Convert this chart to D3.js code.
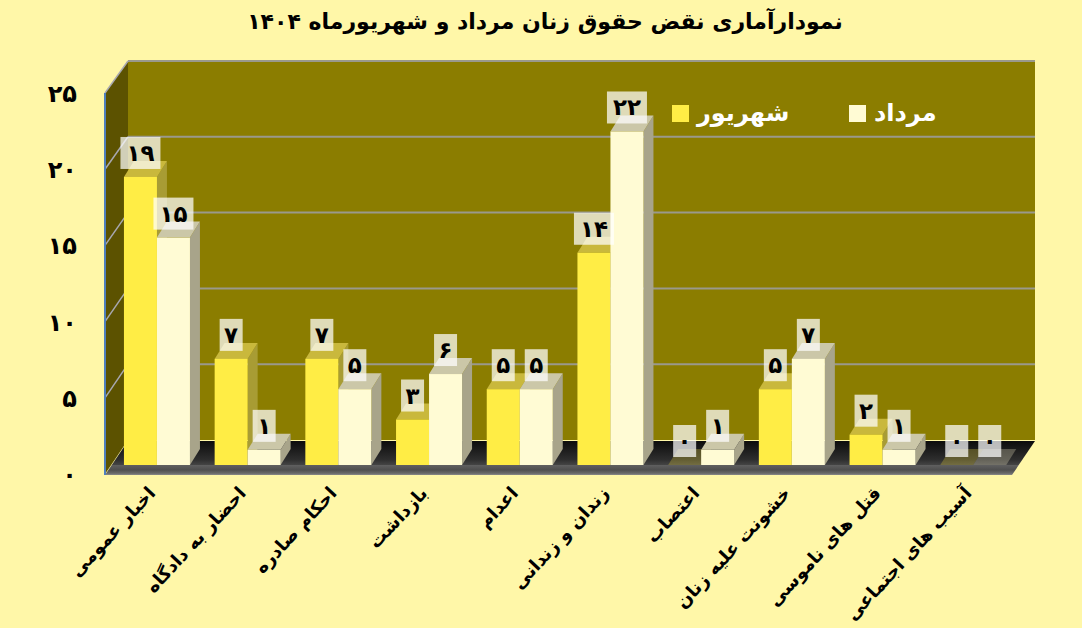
<!DOCTYPE html>
<html>
<head>
<meta charset="utf-8">
<script src="https://cdn.jsdelivr.net/npm/d3@7"></script>
<style>
  html, body { margin: 0; padding: 0; background: #FFF7A8; }
  svg { display: block; }
  text { font-family: "DejaVu Sans", sans-serif; font-weight: bold; }
</style>
</head>
<body>
<svg id="chart" width="1082" height="628"></svg>
<script>
// ---- data ----
const title = "نمودارآماری نقض حقوق زنان مرداد و شهریورماه ۱۴۰۴";
const categories = ["اخبار عمومی", "احضار به دادگاه", "احکام صادره", "بازداشت", "اعدام", "زندان و زندانی", "اعتصاب", "خشونت علیه زنان", "قتل های ناموسی", "آسیب های اجتماعی"];
const seriesNames = ["شهریور", "مرداد"];
const shahrivar = [19, 7, 7, 3, 5, 14, 0, 5, 2, 0];
const mordad = [15, 1, 5, 6, 5, 22, 1, 7, 1, 0];
const yTicks = [0, 5, 10, 15, 20, 25];

// ---- helpers ----
const faDigits = "۰۱۲۳۴۵۶۷۸۹";
const fa = n => String(n).replace(/\d/g, d => faDigits[+d]);

const svg = d3.select("#chart");

// geometry of the 3D frame
const frontL = 105, frontR = 1012;
const DX = 23, DY = -34;          // full depth offset (front -> back)
const bDX = 10, bDY = -16;        // bar depth offset
const barShift = 6.6;             // bars sit slightly behind front plane

const yFront = d3.scaleLinear().domain([0, 25]).range([474, 93]);
const yBack = d3.scaleLinear().domain([0, 25]).range([440, 61]);
const yBar = d3.scaleLinear().domain([0, 25]).range([465, 465 - 25 * 15.16]);

const x0 = d3.scaleBand().domain(categories).range([frontL + barShift, frontR + barShift]).paddingInner(0).paddingOuter(0);
const x1 = d3.scaleBand().domain(seriesNames).range([0, x0.bandwidth()]).paddingInner(0).paddingOuter(0.374);
const xCat = d3.scaleBand().domain(categories).range([frontL, frontR]);

const colors = {
  "شهریور": { front: "#FFED45", top: "#C9B83C", side: "#A89C34" },
  "مرداد": { front: "#FFFBD4", top: "#CBC7A8", side: "#A8A48A" }
};

// ---- title ----
svg.append("text")
  .attr("x", 545).attr("y", 29)
  .attr("text-anchor", "middle")
  .attr("font-size", 22)
  .attr("fill", "#000")
  .text(title);

// ---- walls ----
const backTop = yBack(25), backBot = yBack(0);
svg.append("rect")
  .attr("x", frontL + DX).attr("y", backTop)
  .attr("width", frontR - frontL).attr("height", backBot - backTop)
  .attr("fill", "#8B7D00");

svg.append("polygon")
  .attr("points", [[frontL, yFront(25)], [frontL + DX, backTop], [frontL + DX, backBot], [frontL, yFront(0)]].map(p => p.join(",")).join(" "))
  .attr("fill", "#5C5200");

// gridlines (back wall + left wall)
const gridVals = yTicks.filter(v => v > 0);
svg.append("g").selectAll("line.gb").data(gridVals).join("line")
  .attr("x1", frontL + DX).attr("x2", frontR + DX)
  .attr("y1", d => yBack(d)).attr("y2", d => yBack(d))
  .attr("stroke", "#9A998C").attr("stroke-width", 2);
svg.append("g").selectAll("line.gl").data(gridVals).join("line")
  .attr("x1", frontL).attr("x2", frontL + DX)
  .attr("y1", d => yFront(d)).attr("y2", d => yBack(d))
  .attr("stroke", "#A8A8B0").attr("stroke-width", 1.5);

// ---- floor ----
const defs = svg.append("defs");
const fg = defs.append("linearGradient").attr("id", "floorGrad")
  .attr("x1", 0).attr("y1", 0).attr("x2", 0).attr("y2", 1);
[[0, "#0c0c0c"], [0.55, "#2e2e2e"], [0.7, "#444"], [0.72, "#5e5e5e"], [0.85, "#4f4f4f"], [0.95, "#6a6a6a"], [1, "#8a8a8a"]]
  .forEach(([o, c]) => fg.append("stop").attr("offset", o).attr("stop-color", c));
svg.append("polygon")
  .attr("points", [[frontL + DX, backBot + 1], [frontR + DX, backBot + 1], [frontR, yFront(0) + 1], [frontL, yFront(0) + 1]].map(p => p.join(",")).join(" "))
  .attr("fill", "url(#floorGrad)");

// front axis line
svg.append("line")
  .attr("x1", frontL).attr("x2", frontL)
  .attr("y1", yFront(25)).attr("y2", yFront(0) + 1)
  .attr("stroke", "#4F7FBD").attr("stroke-width", 2);

// ---- bars ----
const barData = [];
categories.forEach((c, i) => {
  barData.push({ cat: c, s: seriesNames[0], v: shahrivar[i] });
  barData.push({ cat: c, s: seriesNames[1], v: mordad[i] });
});

const bw = x1.bandwidth();
const bars = svg.append("g").selectAll("g.bar").data(barData).join("g").attr("class", "bar");
bars.each(function (d) {
  const g = d3.select(this);
  const xl = x0(d.cat) + x1(d.s), xr = xl + bw;
  const yt = yBar(d.v), yb = yBar(0);
  const col = colors[d.s];
  const pts = a => a.map(p => p.join(",")).join(" ");
  if (d.v > 0) {
    g.append("polygon").attr("points", pts([[xr, yt], [xr + bDX, yt + bDY], [xr + bDX, yb + bDY], [xr, yb]])).attr("fill", col.side);
    g.append("polygon").attr("points", pts([[xl, yt], [xl + bDX, yt + bDY], [xr + bDX, yt + bDY], [xr, yt]])).attr("fill", col.top);
    g.append("rect").attr("x", xl).attr("y", yt).attr("width", bw).attr("height", yb - yt).attr("fill", col.front);
  } else {
    g.append("polygon").attr("points", pts([[xl, yt], [xl + bDX, yt + bDY], [xr + bDX, yt + bDY], [xr, yt]]))
      .attr("fill", col.top).attr("opacity", 0.35);
  }
});

// ---- value labels ----
const labels = svg.append("g").selectAll("g.lbl").data(barData).join("g").attr("class", "lbl");
labels.each(function (d) {
  const g = d3.select(this);
  const cx = x0(d.cat) + x1(d.s) + bw / 2;
  const txt = fa(d.v);
  const w = txt.length > 1 ? 40 : 23;
  const h = 32;
  const yb = yBar(d.v) - 8;
  g.append("rect").attr("x", cx - w / 2).attr("y", yb - h).attr("width", w).attr("height", h)
    .attr("fill", "#fff").attr("fill-opacity", 0.72);
  g.append("text").attr("x", cx).attr("y", yb - 8).attr("text-anchor", "middle")
    .attr("font-size", 23).attr("fill", "#000").text(txt);
});

// ---- y axis (Persian digits) ----
const yAxis = d3.axisLeft(yFront).tickValues(yTicks).tickFormat(fa).tickSize(0).tickPadding(0);
const ya = svg.append("g").attr("transform", "translate(77,0)").call(yAxis);
ya.select(".domain").remove();
ya.selectAll("text").attr("font-size", 24).attr("font-family", "DejaVu Sans").attr("font-weight", "bold").attr("fill", "#000").attr("dy", "0.35em");

// ---- category labels ----
svg.append("g").selectAll("text.cat").data(categories).join("text")
  .attr("class", "cat")
  .attr("transform", d => `translate(${xCat(d) + xCat.bandwidth() / 2 + 6},${494}) rotate(-47)`)
  .attr("text-anchor", "end")
  .attr("font-size", 18)
  .attr("fill", "#000")
  .text(d => d);

// ---- legend ----
const legX = [672, 849];
const leg = svg.append("g").selectAll("g.leg").data(seriesNames).join("g").attr("class", "leg");
leg.append("rect").attr("x", (d, i) => legX[i]).attr("y", 105).attr("width", 17).attr("height", 17)
  .attr("fill", d => colors[d].front);
leg.append("text").attr("x", (d, i) => legX[i] + 25).attr("y", 121)
  .attr("text-anchor", "start").attr("font-size", 24).attr("fill", "#fff").text(d => d);
</script>
</body>
</html>
